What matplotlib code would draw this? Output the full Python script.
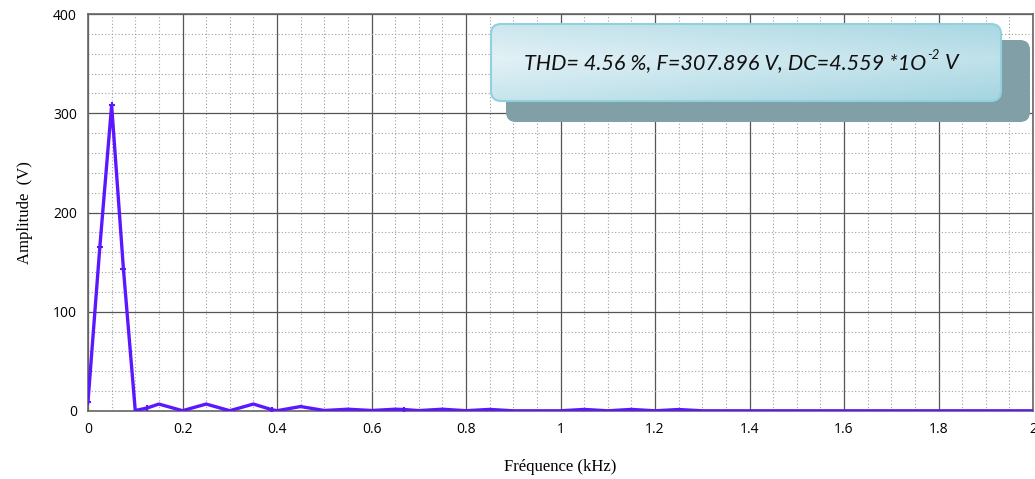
import matplotlib
matplotlib.use("Agg")
import matplotlib.pyplot as plt
from matplotlib.patches import FancyBboxPatch
from matplotlib.colors import LinearSegmentedColormap
from matplotlib.ticker import MultipleLocator, FuncFormatter
import numpy as np

# spectrum of the output voltage (kHz, V)
freq_khz = [0, 0.025, 0.05, 0.075, 0.1, 0.125, 0.15, 0.2, 0.25, 0.3, 0.35, 0.39,
            0.4, 0.45, 0.5, 0.55, 0.6, 0.65, 0.668, 0.7, 0.75, 0.8, 0.85, 0.9,
            0.95, 1.0, 1.05, 1.1, 1.15, 1.2, 1.25, 1.3, 1.5, 1.75, 2.0]
amp_v = [9.5, 165, 307.9, 143, 0.5, 3, 7, 0.3, 7, 0.3, 7, 1.2,
         0.3, 4.5, 0.5, 1.8, 0.5, 1.8, 1.5, 0.4, 1.8, 0.3, 1.6, 0.2,
         0.2, 0.2, 1.6, 0.2, 1.6, 0.2, 1.5, 0.2, 0.2, 0.2, 0.2]
marked = [0, 1, 2, 3, 5, 11, 18]

info = "THD= 4.56 %, F=307.896 V, DC=4.559 *1O"
info_exp = "-2"
info_unit = " V"

fig = plt.figure(figsize=(10.35, 4.79), dpi=100)
ax = fig.add_axes([88 / 1035, 1 - 411 / 479, 945 / 1035, 397 / 479])

ax.plot(freq_khz, amp_v, color="#5b18ff", lw=2.4, solid_joinstyle="round",
        marker="+", markersize=5, markeredgewidth=1.5, markevery=marked, zorder=3)

ax.set_xlim(0, 2)
ax.set_ylim(0, 400)
ax.xaxis.set_major_locator(MultipleLocator(0.2))
ax.xaxis.set_minor_locator(MultipleLocator(0.05))
ax.yaxis.set_major_locator(MultipleLocator(100))
ax.yaxis.set_minor_locator(MultipleLocator(20))
ax.xaxis.set_major_formatter(FuncFormatter(lambda v, p: f"{v:g}"))
ax.grid(which="major", color="#555555", lw=0.9)
ax.grid(which="minor", color="#a0a0a0", lw=0.8, ls=(0, (1, 2)))
ax.tick_params(which="both", length=0, labelsize=10, pad=8)
for lab in ax.get_xticklabels() + ax.get_yticklabels():
    lab.set_fontfamily("Open Sans")
for s in ax.spines.values():
    s.set_color("#666666")
    s.set_linewidth(1.2)

ax.set_xlabel("Fréquence (kHz)", family="Liberation Serif", fontsize=12, labelpad=16)
ax.set_ylabel("Amplitude  (V)", family="Liberation Serif", fontsize=12, labelpad=14)

# overlay in pixel coordinates for the rounded info box
ov = fig.add_axes([0, 0, 1, 1])
ov.set_xlim(0, 1035)
ov.set_ylim(479, 0)
ov.axis("off")

shadow = FancyBboxPatch((506, 40), 524, 82, boxstyle="round,pad=0,rounding_size=10",
                        fc="#819fa7", ec="none", zorder=1)
ov.add_patch(shadow)
box = FancyBboxPatch((491, 24), 510, 77, boxstyle="round,pad=0,rounding_size=10",
                     fc="none", ec="#92d0de", lw=1.5, zorder=3)
ov.add_patch(box)
gx, gy = np.meshgrid(np.linspace(0, 1, 200), np.linspace(0, 1, 60))
grad = 0.55 * gx + 0.5 * np.abs(gy - 0.45) * 1.6
grad = np.clip(grad, 0, 1)
img = ov.imshow(grad, extent=(491, 1001, 101, 24),
                cmap=LinearSegmentedColormap.from_list("blu", ["#e2f1f6", "#a4d5e1"]),
                aspect="auto", zorder=2)
img.set_clip_path(box)

# info line: main text, raised exponent, unit
txt_kw = dict(style="italic", family="Lato", color="#111111", zorder=4)
base_y = 69
t1 = ov.text(524, base_y, info, ha="left", va="baseline", fontsize=15.6, **txt_kw)
fig.canvas.draw()
x1 = ov.transData.inverted().transform((t1.get_window_extent().x1, 0))[0]
t2 = ov.annotate(info_exp, xy=(x1, base_y), xytext=(1, 7), textcoords="offset points",
                 fontsize=9.5, ha="left", va="baseline", **txt_kw)
fig.canvas.draw()
x2 = ov.transData.inverted().transform((t2.get_window_extent().x1, 0))[0]
ov.text(x2, base_y, info_unit, ha="left", va="baseline", fontsize=15.6, **txt_kw)

fig.savefig("out.png", dpi=100)
